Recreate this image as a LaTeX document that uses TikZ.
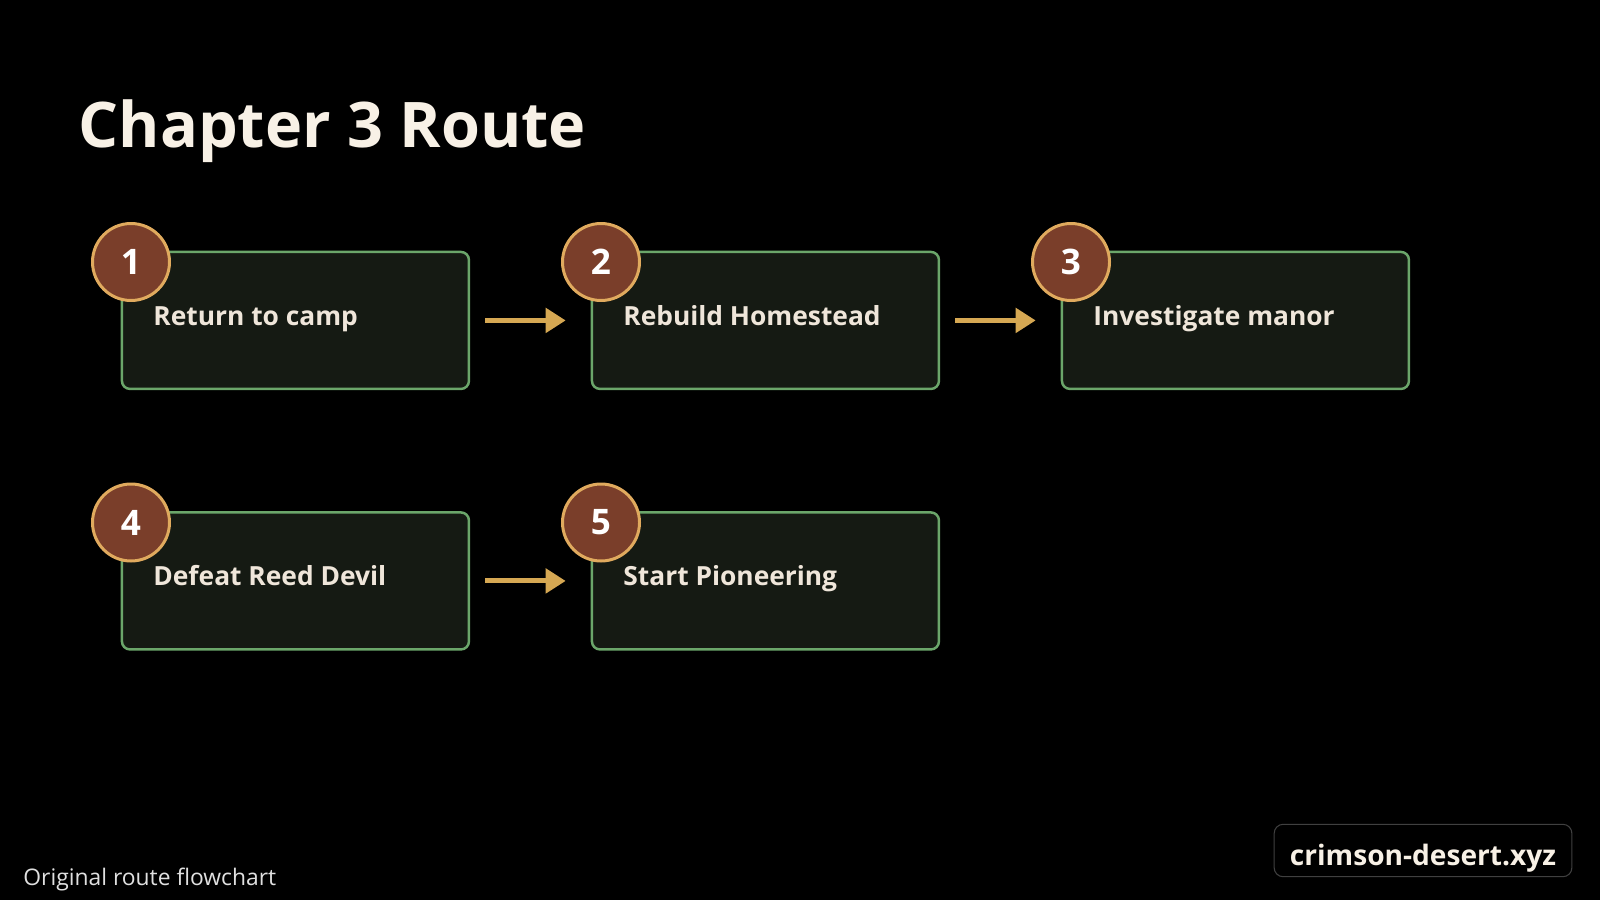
\documentclass[tikz,border=0pt]{standalone}
\usepackage{fontspec}
\setmainfont{Open Sans}
\usetikzlibrary{calc,positioning,arrows.meta}
\definecolor{boxfill}{HTML}{151A13}
\definecolor{boxline}{HTML}{6BA66A}
\definecolor{boxtext}{HTML}{EFE6DA}
\definecolor{numfill}{HTML}{7A3E2A}
\definecolor{numline}{HTML}{E0AA5E}
\definecolor{flowcol}{HTML}{D6A853}
\definecolor{titlecol}{HTML}{F8F1E6}
\tikzset{
  stepbox/.style={draw=boxline, fill=boxfill, line width=0.7pt, rounded corners=0.8mm,
    minimum width=3.47cm, minimum height=1.37cm, inner sep=0pt, anchor=north west},
  steptext/.style={anchor=base west, inner sep=0pt, text=boxtext,
    font=\bfseries\fontsize{7.5pt}{9pt}\selectfont},
  stepnum/.style={circle, draw=numline, fill=numfill, line width=0.85pt, minimum size=7.7mm,
    inner sep=0pt, text=white, font=\bfseries\fontsize{10pt}{12pt}\selectfont},
  flow/.style={draw=flowcol, line width=1.4pt, -{Triangle[length=2mm, width=2.4mm]},
    shorten <=1.5mm, shorten >=2.5mm}
}
\begin{document}
\begin{tikzpicture}
			%%%%% BACKGROUND %%%%%
			\fill[black] (0, 0) rectangle (16, 9);
			\useasboundingbox (0, 0) rectangle (16, 9);
			
			\node[anchor=base west, inner sep=0pt, text=titlecol, font=\bfseries\fontsize{17.9pt}{21pt}\selectfont] (title) at (0.78, 7.52) {Chapter 3 Route};
			
			%%%%% ROW 1 %%%%%
			\node[stepbox] (s1) at (1.207, 6.493) {};
			\node[stepbox] (s2) at (5.907, 6.493) {};
			\node[stepbox] (s3) at (10.607, 6.493) {};
			
			\node[steptext] (t1) at ($(s1.north west)+(0.32, -0.745)$) {Return to camp};
			\node[steptext] (t2) at ($(s2.north west)+(0.32, -0.745)$) {Rebuild Homestead};
			\node[steptext] (t3) at ($(s3.north west)+(0.32, -0.745)$) {Investigate manor};
			
			\draw[flow] (s1.east) -- (s2.west);
			\draw[flow] (s2.east) -- (s3.west);
			
			\node[stepnum] (n1) at ($(s1.north west)+(0.103, -0.113)$) {1};
			\node[stepnum] (n2) at ($(s2.north west)+(0.103, -0.113)$) {2};
			\node[stepnum] (n3) at ($(s3.north west)+(0.103, -0.113)$) {3};
			
			%%%%% ROW 2 %%%%%
			\node[stepbox] (s4) at (1.207, 3.888) {};
			\node[stepbox] (s5) at (5.907, 3.888) {};
			
			\node[steptext] (t4) at ($(s4.north west)+(0.32, -0.745)$) {Defeat Reed Devil};
			\node[steptext] (t5) at ($(s5.north west)+(0.32, -0.745)$) {Start Pioneering};
			
			\draw[flow] (s4.east) -- (s5.west);
			
			\node[stepnum] (n4) at ($(s4.north west)+(0.103, -0.113)$) {4};
			\node[stepnum] (n5) at ($(s5.north west)+(0.103, -0.113)$) {5};
			
			%%%%% FOOTER %%%%%
			\node[anchor=base west, inner sep=0pt, text=black!12, font=\fontsize{6.5pt}{8pt}\selectfont] (note) at (0.227, 0.15) {Original route flowchart};
			\node[draw=black!75, line width=0.3pt, rounded corners=0.9mm, minimum width=2.977cm, minimum height=0.524cm, inner sep=0pt, text height=3mm, text depth=0pt, text=titlecol, font=\bfseries\fontsize{8pt}{10pt}\selectfont] (site) at (14.23, 0.495) {crimson-desert.xyz};
\end{tikzpicture}
\end{document}
